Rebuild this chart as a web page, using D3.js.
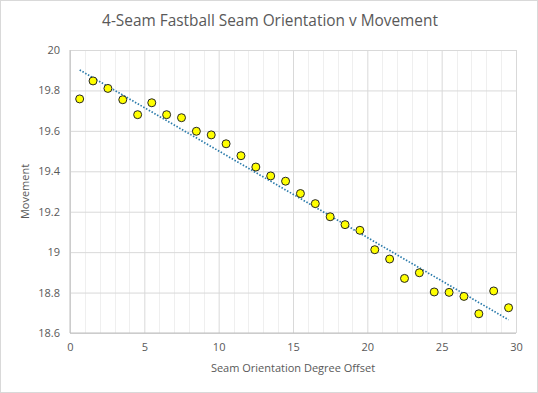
<!DOCTYPE html>
<html>
<head>
<meta charset="utf-8">
<script src="https://cdn.jsdelivr.net/npm/d3@7"></script>
<style>
  body { margin: 0; background: #fff; }
  svg { display: block; font-family: "Open Sans", sans-serif; }
</style>
</head>
<body>
<div id="chart"></div>
<script>
// seam orientation offset (deg) vs movement
var offsets = [0.65, 1.55, 2.55, 3.55, 4.55, 5.5, 6.5, 7.5, 8.5, 9.5,
               10.5, 11.5, 12.5, 13.5, 14.5, 15.5, 16.5, 17.5, 18.5, 19.5,
               20.5, 21.5, 22.5, 23.5, 24.5, 25.5, 26.5, 27.5, 28.5, 29.5];
var movement = [19.758, 19.847, 19.810, 19.754, 19.680, 19.739, 19.680, 19.665, 19.598, 19.580,
                19.536, 19.477, 19.421, 19.377, 19.351, 19.290, 19.240, 19.175, 19.136, 19.108,
                19.012, 18.966, 18.870, 18.898, 18.803, 18.801, 18.781, 18.695, 18.808, 18.725];
var xTicks = [0, 5, 10, 15, 20, 25, 30];
var yTicks = [18.6, 18.8, 19, 19.2, 19.4, 19.6, 19.8, 20];

var W = 538, H = 393;
var margin = {top: 50, right: 22, bottom: 60, left: 70};
var width = W - margin.left - margin.right,
    height = H - margin.top - margin.bottom;

var svg = d3.select('#chart').append('svg')
    .attr('width', W).attr('height', H);

// outer border
svg.append('rect')
    .attr('x', 0.5).attr('y', 0.5).attr('width', W - 1).attr('height', H - 1)
    .attr('fill', '#fff').attr('stroke', '#d9d9d9');

var x = d3.scaleLinear().domain([0, 30]).range([0, width]),
    y = d3.scaleLinear().domain([18.6, 20]).range([height, 0]);

var g = svg.append('g').attr('transform', 'translate(' + margin.left + ',' + margin.top + ')');

// minor vertical gridlines every 1 unit
g.append('g').selectAll('line')
    .data(d3.range(1, 30).filter(function(d) { return d % 5 !== 0; }))
    .enter().append('line')
    .attr('x1', function(d) { return Math.round(x(d)) + 0.5; })
    .attr('x2', function(d) { return Math.round(x(d)) + 0.5; })
    .attr('y1', 0).attr('y2', height)
    .attr('stroke', '#efefef');

// major gridlines
var xGrid = d3.axisBottom(x).tickValues(xTicks).tickSize(-height).tickFormat('');
g.append('g').attr('class', 'grid')
    .attr('transform', 'translate(0,' + height + ')')
    .call(xGrid);
var yGrid = d3.axisLeft(y).tickValues(yTicks).tickSize(-width).tickFormat('');
g.append('g').attr('class', 'grid').call(yGrid);
g.selectAll('.grid .domain').remove();
g.selectAll('.grid line').attr('stroke', '#d9d9d9');

// axis lines
g.append('line').attr('x1', 0).attr('x2', 0).attr('y1', 0).attr('y2', height)
    .attr('stroke', '#bfbfbf');
g.append('line').attr('x1', 0).attr('x2', width).attr('y1', height).attr('y2', height)
    .attr('stroke', '#bfbfbf');

// tick labels
var xAxis = d3.axisBottom(x).tickValues(xTicks).tickSize(0).tickPadding(10);
var gx = g.append('g').attr('transform', 'translate(0,' + height + ')').call(xAxis);
var yAxis = d3.axisLeft(y).tickValues(yTicks).tickSize(0).tickPadding(10)
    .tickFormat(function(d) { return d3.format('')(+d.toFixed(1)); });
var gy = g.append('g').call(yAxis);
[gx, gy].forEach(function(a) {
    a.select('.domain').remove();
    a.selectAll('text').attr('fill', '#595959').style('font-size', '11px')
        .style('font-family', '"Open Sans", sans-serif');
});

// linear trendline (least squares)
var mx = d3.mean(offsets), my = d3.mean(movement);
var sxy = d3.sum(offsets, function(d, i) { return (d - mx) * (movement[i] - my); }),
    sxx = d3.sum(offsets, function(d) { return (d - mx) * (d - mx); });
var slope = sxy / sxx, icpt = my - slope * mx;
var xr = d3.extent(offsets);
g.append('line')
    .attr('x1', x(xr[0])).attr('y1', y(icpt + slope * xr[0]))
    .attr('x2', x(xr[1])).attr('y2', y(icpt + slope * xr[1]))
    .attr('stroke', '#2b7bab').attr('stroke-width', 1.7)
    .attr('stroke-dasharray', '1.5,1.7');

// points
g.selectAll('.point')
    .data(offsets)
    .enter().append('circle')
    .attr('class', 'point')
    .attr('cx', function(d) { return x(d); })
    .attr('cy', function(d, i) { return y(movement[i]); })
    .attr('r', 4)
    .attr('fill', '#ffff00')
    .attr('stroke', '#262626')
    .attr('stroke-width', 1);

// titles
var title = svg.append('text')
    .attr('x', 270).attr('y', 26)
    .attr('text-anchor', 'middle')
    .attr('fill', '#595959')
    .style('font-size', '16px')
    .text('4-Seam Fastball Seam Orientation v Movement');
// shrink font so title spans about the same width as the original (narrow Aptos face)
var tw = title.node().getComputedTextLength();
title.style('font-size', (16 * 336 / tw).toFixed(2) + 'px');

svg.append('text')
    .attr('x', margin.left + width / 2).attr('y', 372)
    .attr('text-anchor', 'middle')
    .attr('fill', '#595959')
    .style('font-size', '11px')
    .text('Seam Orientation Degree Offset');

svg.append('text')
    .attr('transform', 'translate(29,' + (margin.top + height / 2) + ') rotate(-90)')
    .attr('text-anchor', 'middle')
    .attr('fill', '#595959')
    .style('font-size', '11px')
    .text('Movement');
</script>
</body>
</html>
